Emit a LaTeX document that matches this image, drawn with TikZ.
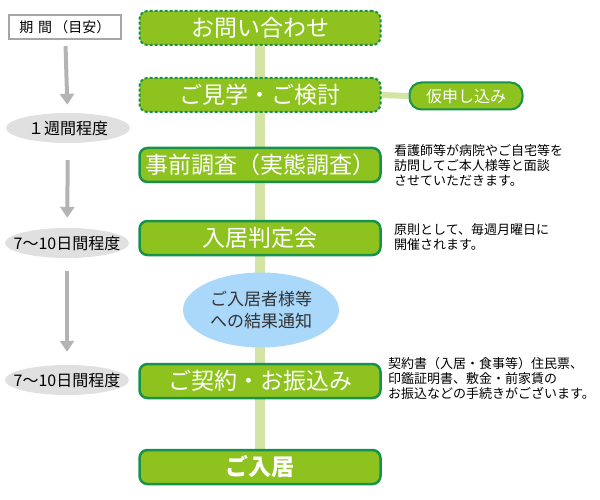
\documentclass[tikz,border=0pt]{standalone}
\usepackage{fontspec}
\setmainfont{Noto Sans CJK JP}
\usetikzlibrary{arrows.meta,backgrounds,shapes.geometric}
\definecolor{leaf}{HTML}{8DC21F}
\definecolor{edge}{HTML}{17924A}
\definecolor{trunk}{HTML}{D3E4A5}
\definecolor{sky}{HTML}{A9D8FA}
\definecolor{mist}{HTML}{E0E0E0}
\definecolor{pipe}{HTML}{B4B4B4}
\tikzstyle{flowbox}=[draw=edge,line width=2.5pt,fill=leaf,rounded corners=8pt,minimum width=241pt,minimum height=34pt,text=white,inner sep=0pt,font=\fontsize{23}{27}\selectfont]
\tikzstyle{tentative}=[flowbox,line width=2pt,dash pattern=on 3pt off 2pt]
\tikzstyle{period}=[ellipse,fill=mist,minimum width=124pt,minimum height=30pt,inner xsep=-22pt,inner ysep=0pt,font=\fontsize{16}{19}\selectfont]
\tikzstyle{pipearrow}=[pipe,line width=4pt,-{Triangle[width=14pt,length=11pt]}]
\tikzstyle{memotext}=[anchor=north west,align=left,inner sep=0pt,font=\fontsize{13}{15}\selectfont]
\newcommand{\memo}[3]{
	\node[memotext] (#1) at (#2) {#3};
}

\begin{document}
\begin{tikzpicture}[x=1pt,y=-1pt]
	\useasboundingbox (0,0) rectangle (600,500);
	% left column
	\node[draw=gray!70,line width=2pt,fill=white,minimum width=112pt,minimum height=24pt,font=\fontsize{14}{17}\selectfont] (kikan) at (65,27) {期\,\,間\,（目安）};
	\node[period] (week) at (68,128) {１週間程度};
	\node[period] (tendays) at (67,243) {7～10日間程度};
	\node[period] (tendaysb) at (67,380) {7～10日間程度};
	\draw[pipearrow,shorten <=6pt,shorten >=8pt] (kikan) -- (week);
	\draw[pipearrow,shorten <=17pt,shorten >=10pt] (week) -- (tendays);
	\draw[pipearrow,shorten <=13pt,shorten >=13pt] (tendays) -- (tendaysb);
	% main flow
	\node[tentative] (toiawase) at (260,28) {お問い合わせ};
	\node[tentative] (kengaku) at (260,95) {ご見学・ご検討};
	\node[flowbox] (chosa) at (260,165) {事前調査（実態調査）};
	\node[flowbox] (hantei) at (260,238) {入居判定会};
	\node[ellipse,fill=sky,minimum width=156pt,minimum height=75pt,inner sep=0pt,align=center,text=black!80,font=\fontsize{17}{22}\selectfont] (tsuchi) at (261,310) {ご入居者様等\\への結果通知};
	\node[flowbox] (keiyaku) at (260,381) {ご契約・お振込み};
	\node[flowbox,font=\bfseries\fontsize{23}{27}\selectfont] (nyukyo) at (260,467) {ご入居};
	\node[draw=edge,line width=2pt,fill=leaf,rounded corners=12pt,minimum width=113pt,minimum height=27pt,text=white,inner sep=0pt,font=\fontsize{16}{19}\selectfont] (kari) at (466,96) {仮申し込み};
	\begin{scope}[on background layer]
		\draw[trunk,line width=10pt] (toiawase) -- (nyukyo);
		\draw[trunk,line width=6pt] (kengaku.east) -- (kari.west);
	\end{scope}
	% notes
	\memo{chosanote}{394,144}{看護師等が病院やご自宅等を\\訪問してご本人様等と面談\\させていただきます。}
	\memo{hanteinote}{394,223}{原則として、毎週月曜日に\\開催されます。}
	\memo{keiyakunote}{388,357}{契約書（入居・食事等）住民票、\\印鑑証明書、敷金・前家賃の\\お振込などの手続きがございます。}
\end{tikzpicture}
\end{document}
